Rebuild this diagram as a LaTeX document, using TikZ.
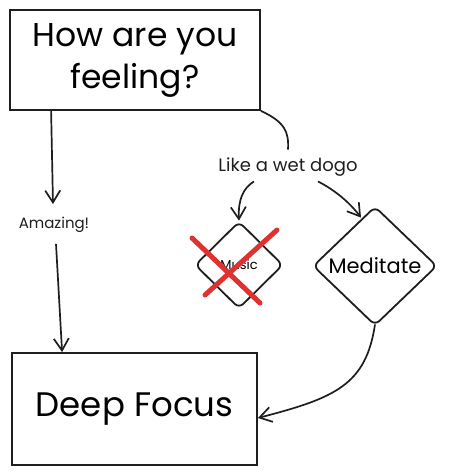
\documentclass[tikz,border=0pt]{standalone}
\usepackage{fontspec}
\setmainfont{Poppins}
\usepackage{xcolor}
\usetikzlibrary{positioning, shapes.geometric, arrows.meta}
\definecolor{ink}{HTML}{1E1E1E}
\definecolor{crossred}{HTML}{E03131}

\begin{document}
\begin{tikzpicture}[x=1pt, y=-1pt,
	box/.style={rectangle, draw=ink, line width=1.8pt, inner sep=0},
	choice/.style={diamond, draw=ink, line width=1.8pt, rounded corners=6pt, inner sep=0},
	lbl/.style={inner sep=1pt, text=ink},
	arr/.style={-{Straight Barb[length=12pt, width=15pt]}, draw=ink, line width=1.7pt},
	]
	\useasboundingbox (0,0) rectangle (451,474);
		%Nodes
    \node[box, minimum width=250pt, minimum height=100pt, align=center, font=\fontsize{33}{42}\selectfont] (Q) at (135,60) {How are you\\feeling?};
    \node[box, minimum width=245pt, minimum height=112pt, font=\fontsize{34}{40}\selectfont] (Deep) at (134.5,409) {Deep Focus};
    \node[lbl, font=\fontsize{15}{18}\selectfont] (Amz) at (54,225) {Amazing!};
    \node[lbl, font=\fontsize{18}{21}\selectfont] (Wet) at (288,167) {Like a wet dogo};
    \node[choice, minimum width=88pt, minimum height=87pt, font=\fontsize{13}{15}\selectfont] (Music) at (239,265) {Music};
    \node[choice, minimum width=124pt, minimum height=119pt, font=\fontsize{21}{24}\selectfont] (Med) at (375,266) {Meditate};

		%Lines
		\draw[arr] ([xshift=42pt]Q.south west) -- ([xshift=-1pt, yshift=12pt]Amz.north);
		\draw[arr] ([xshift=2pt, yshift=-10pt]Amz.south) -- ([xshift=51pt]Deep.north west);
		\draw[draw=ink, line width=1.7pt] (Q.south east) .. controls (285,122) and (289,132) .. ([yshift=7pt]Wet.north);
		\draw[arr] ([xshift=-34pt, yshift=-4pt]Wet.south) .. controls (243,188) and (238,200) .. (Music.north);
		\draw[arr] ([xshift=30pt, yshift=-4pt]Wet.south) .. controls (335,190) and (350,203) .. ([xshift=-14pt, yshift=-12pt]Med.north);
		\draw[arr] ([yshift=2pt]Med.south) .. controls (366,385) and (335,398) .. ([yshift=-9pt]Deep.east);

		%Cross
		\draw[crossred, line width=5pt, line cap=round] (192,238) -- (260,303);
		\draw[crossred, line width=5pt, line cap=round] (277,230) -- (205,295);
	\end{tikzpicture}
\end{document}
